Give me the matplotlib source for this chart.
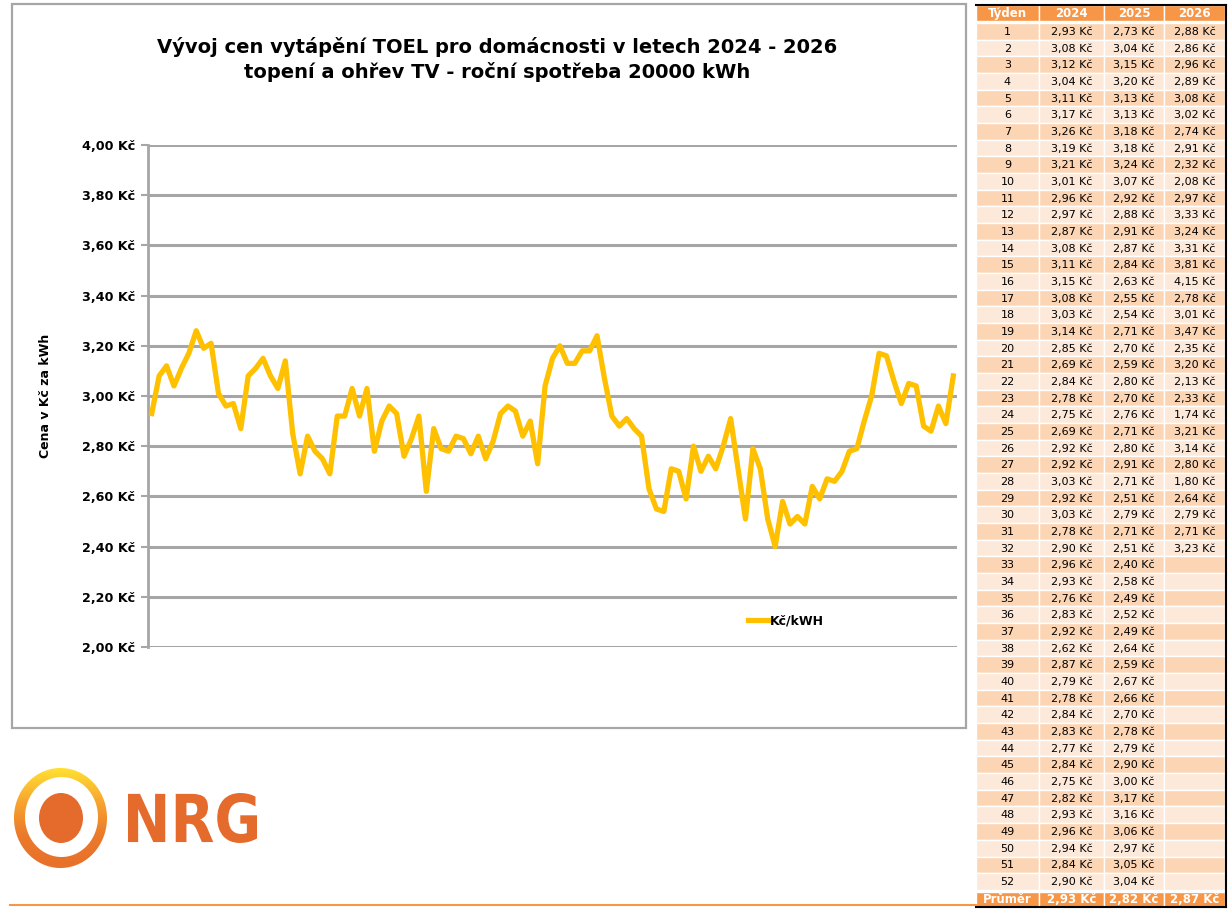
import numpy as np
import matplotlib
matplotlib.use('Agg')
import matplotlib.pyplot as plt
from matplotlib.patches import Rectangle, PathPatch, Ellipse
from matplotlib.path import Path
from matplotlib.textpath import TextPath
from matplotlib.font_manager import FontProperties
from matplotlib.transforms import Affine2D
from matplotlib.colors import LinearSegmentedColormap

# weekly prices Kč/kWh
prices_2024 = [2.93, 3.08, 3.12, 3.04, 3.11, 3.17, 3.26, 3.19, 3.21, 3.01,
               2.96, 2.97, 2.87, 3.08, 3.11, 3.15, 3.08, 3.03, 3.14, 2.85,
               2.69, 2.84, 2.78, 2.75, 2.69, 2.92, 2.92, 3.03, 2.92, 3.03,
               2.78, 2.90, 2.96, 2.93, 2.76, 2.83, 2.92, 2.62, 2.87, 2.79,
               2.78, 2.84, 2.83, 2.77, 2.84, 2.75, 2.82, 2.93, 2.96, 2.94,
               2.84, 2.90]
prices_2025 = [2.73, 3.04, 3.15, 3.20, 3.13, 3.13, 3.18, 3.18, 3.24, 3.07,
               2.92, 2.88, 2.91, 2.87, 2.84, 2.63, 2.55, 2.54, 2.71, 2.70,
               2.59, 2.80, 2.70, 2.76, 2.71, 2.80, 2.91, 2.71, 2.51, 2.79,
               2.71, 2.51, 2.40, 2.58, 2.49, 2.52, 2.49, 2.64, 2.59, 2.67,
               2.66, 2.70, 2.78, 2.79, 2.90, 3.00, 3.17, 3.16, 3.06, 2.97,
               3.05, 3.04]
prices_2026 = [2.88, 2.86, 2.96, 2.89, 3.08, 3.02, 2.74, 2.91, 2.32, 2.08,
               2.97, 3.33, 3.24, 3.31, 3.81, 4.15, 2.78, 3.01, 3.47, 2.35,
               3.20, 2.13, 2.33, 1.74, 3.21, 3.14, 2.80, 1.80, 2.64, 2.79,
               2.71, 3.23]
weeks_2026_in_chart = 5
averages = [2.93, 2.82, 2.87]
years = ['2024', '2025', '2026']
y_ticks = [2.0, 2.2, 2.4, 2.6, 2.8, 3.0, 3.2, 3.4, 3.6, 3.8, 4.0]

LINE = '#FFC000'
GRID = '#A6A6A6'
ORANGE = '#F79646'
DARK = '#FCD5B4'
LIGHT = '#FDE9D9'
LOGO = '#E56B2C'

W, H = 1232, 915
fig = plt.figure(figsize=(W / 100, H / 100), dpi=100)
plt.rcParams['font.family'] = ['DejaVu Sans']


def frac(x0, y0, x1, y1):
    return [x0 / W, 1 - y1 / H, (x1 - x0) / W, (y1 - y0) / H]


# overlay in pixel coordinates
bg = fig.add_axes([0, 0, 1, 1])
bg.set_xlim(0, W)
bg.set_ylim(H, 0)
bg.axis('off')

# chart border
bg.add_patch(Rectangle((12, 4), 954, 724, fill=False, ec=GRID, lw=1.6))

# line chart
ax = fig.add_axes(frac(148, 145, 957, 647))
series = prices_2024 + prices_2025 + prices_2026[:weeks_2026_in_chart]
x = np.arange(len(series))
ax.plot(x, series, color=LINE, lw=3.8, solid_joinstyle='round', label='Kč/kWH', zorder=3)
ax.set_xlim(-0.5, len(series) - 0.5)
ax.set_ylim(2.0, 4.0)
ax.set_yticks(y_ticks)
ax.set_yticklabels([f'{v:.2f}'.replace('.', ',') + ' Kč' for v in y_ticks],
                   fontsize=9.2, fontweight='bold')
ax.set_xticks([])
ax.grid(axis='y', color=GRID, lw=2.2)
ax.set_axisbelow(True)
for s in ['top', 'right', 'bottom']:
    ax.spines[s].set_visible(False)
ax.spines['left'].set_color(GRID)
ax.spines['left'].set_linewidth(2)
ax.tick_params(axis='y', color=GRID, width=1.5, length=5, pad=4)
ax.set_ylabel('Cena v Kč za kWh', fontsize=9, fontweight='bold')
ax.yaxis.set_label_coords(-0.119, 0.5)
ax.patch.set_alpha(0)
leg = ax.legend(loc='center left', bbox_to_anchor=(0.742, 0.052), frameon=False,
                borderpad=0, borderaxespad=0,
                handlelength=1.6, handletextpad=0.1,
                prop={'size': 9, 'weight': 'bold'})

# title
bg.text(497, 47, 'Vývoj cen vytápění TOEL pro domácnosti v letech 2024 - 2026',
        ha='center', va='center', fontsize=14, fontweight='bold')
bg.text(497, 72, 'topení a ohřev TV - roční spotřeba 20000 kWh',
        ha='center', va='center', fontsize=14, fontweight='bold')

# table
col_edges = [976, 1039, 1104, 1164, 1225]
row_h = 16.67
first_row = 23


def cell(c, y0, h, color, text, bold=False, tcolor='black', size=8):
    x0, x1 = col_edges[c], col_edges[c + 1]
    bg.add_patch(Rectangle((x0, y0), x1 - x0, h, fc=color, ec='white', lw=1))
    if text:
        bg.text((x0 + x1) / 2, y0 + h / 2 + 0.5, text, ha='center', va='center',
                fontsize=size, fontweight='bold' if bold else 'normal', color=tcolor)


def kc(v):
    return f'{v:.2f}'.replace('.', ',') + ' Kč'


cell(0, 5, 16, ORANGE, 'Týden', True, 'white', 8.5)
for i, yr in enumerate(years):
    cell(i + 1, 5, 16, ORANGE, yr, True, 'white', 8.5)
for w in range(52):
    y0 = first_row + w * row_h
    color = DARK if w % 2 == 0 else LIGHT
    cell(0, y0, row_h, color, str(w + 1))
    cell(1, y0, row_h, color, kc(prices_2024[w]))
    cell(2, y0, row_h, color, kc(prices_2025[w]))
    cell(3, y0, row_h, color, kc(prices_2026[w]) if w < len(prices_2026) else '')
avg_y = first_row + 52 * row_h + 2
cell(0, avg_y, 15, ORANGE, 'Průměr', True, 'white', 8.5)
for i, v in enumerate(averages):
    cell(i + 1, avg_y, 15, ORANGE, kc(v), True, 'white', 8.5)
bg.plot([976, 1226], [5, 5], color='black', lw=1.5)
bg.plot([1226, 1226], [5, avg_y + 15], color='black', lw=1.5)
bg.plot([976, 1226], [avg_y + 15.5, avg_y + 15.5], color='black', lw=1.5)

# bottom orange line
bg.plot([10, 976], [905, 905], color=ORANGE, lw=1.5)

# logo ring with gradient
t = np.linspace(0, 2 * np.pi, 200)
outer = np.column_stack([60.5 + 46.5 * np.cos(t), 818 + 50 * np.sin(t)])
inner = np.column_stack([61.5 + 36.5 * np.cos(-t), 817 + 40 * np.sin(-t)])
verts = np.vstack([outer, inner])
codes = ([Path.MOVETO] + [Path.LINETO] * 198 + [Path.CLOSEPOLY]) * 2
ring = PathPatch(Path(verts, codes), fc='none', ec='none', transform=bg.transData)
bg.add_patch(ring)
grad = LinearSegmentedColormap.from_list('g', ['#FFE030', '#F7A530', '#EB7A2A', '#E8702A'])
img = bg.imshow(np.linspace(0, 1, 100).reshape(-1, 1), cmap=grad, aspect='auto',
                extent=(14, 107, 868, 768), zorder=2)
img.set_clip_path(ring)
bg.set_xlim(0, W)
bg.set_ylim(H, 0)
bg.add_patch(Ellipse((61, 818), 44, 50, fc=LOGO, ec='none', zorder=3))

# NRG lettering fitted to its box
tp = TextPath((0, 0), 'NRG', size=1, prop=FontProperties(family='DejaVu Sans', weight='bold'))
ext = tp.get_extents()
tr = Affine2D().translate(-ext.x0, -ext.y0).scale(129 / ext.width, -50 / ext.height).translate(128, 843)
bg.add_patch(PathPatch(tr.transform_path(tp), fc=LOGO, ec='none', zorder=3))

fig.savefig('out.png', dpi=100)
